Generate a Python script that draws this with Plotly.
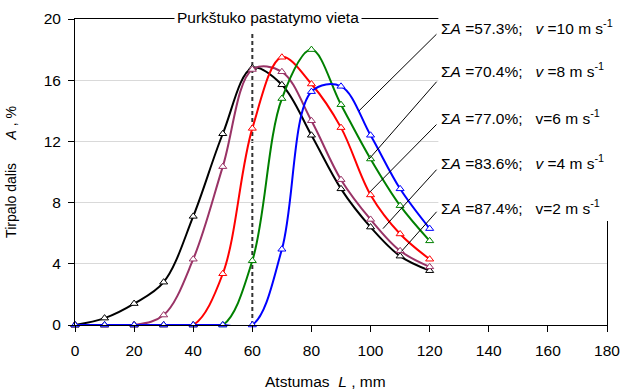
import plotly.graph_objects as go

# ---- data ----
distance_mm = [0, 10, 20, 30, 40, 50, 60, 70, 80, 90, 100, 110, 120]

share_v2 = [0, 0.45, 1.4, 2.8, 7.1, 12.5, 16.8, 15.7, 12.4, 8.9, 6.4, 4.5, 3.55]
share_v4 = [0, 0, 0, 0.65, 4.3, 10.35, 16.7, 16.55, 13.35, 9.5, 6.9, 4.85, 3.8]
share_v6 = [0, 0, 0, 0, 0, 3.35, 12.85, 17.5, 15.75, 12.9, 8.5, 5.95, 4.3]
share_v8 = [0, 0, 0, 0, 0, 0, 4.2, 14.8, 18.0, 14.4, 10.85, 7.8, 5.5]
share_v10 = [0, 0, 0, 0, 0, 0, 0, 4.95, 15.25, 15.6, 12.4, 8.9, 6.3]

series_names = ["v=2 m/s", "v=4 m/s", "v=6 m/s", "v=8 m/s", "v=10 m/s"]
series_values = [share_v2, share_v4, share_v6, share_v8, share_v10]
series_colors = ["#000000", "#993366", "#FF0000", "#008000", "#0000FF"]

label_texts = [
    "Σ<i>A</i> =57.3%;&nbsp;&nbsp; <i>v</i> =10 m s<sup>-1</sup>",
    "Σ<i>A</i> =70.4%;&nbsp;&nbsp; <i>v</i> =8 m s<sup>-1</sup>",
    "Σ<i>A</i> =77.0%;&nbsp;&nbsp; v=6 m s<sup>-1</sup>",
    "Σ<i>A</i> =83.6%;&nbsp;&nbsp; <i>v</i> =4 m s<sup>-1</sup>",
    "Σ<i>A</i> =87.4%;&nbsp;&nbsp; v=2 m s<sup>-1</sup>",
]
label_y = [19.5, 16.65, 13.6, 10.65, 7.7]          # text rows (A, %)
leader_start_y = [19.1, 16.0, 13.2, 10.25, 7.5]    # leader start at the text
leader_end = [(96.1, 14.0), (99.5, 10.85), (99.8, 8.7), (104.2, 6.3), (110.4, 4.8)]

nozzle_position_mm = 60
nozzle_label = "Purkštuko pastatymo vieta"

x_title = "Atstumas&nbsp; <i>L</i> , mm"
y_title = "Tirpalo dalis&nbsp;&nbsp;&nbsp;&nbsp;&nbsp; <i>A</i> , %"

x_ticks = [0, 20, 40, 60, 80, 100, 120, 140, 160, 180]
y_ticks = [0, 4, 8, 12, 16, 20]

FONT = "Liberation Sans, Arial, sans-serif"
FS = 15.5

fig = go.Figure()

for name, vals, col in zip(series_names, series_values, series_colors):
    fig.add_trace(go.Scatter(
        x=distance_mm, y=vals, name=name, mode="lines+markers",
        line=dict(color=col, width=2, shape="spline", smoothing=1.0),
        marker=dict(symbol="triangle-up", size=7, color="white",
                    line=dict(color=col, width=1)),
        cliponaxis=False, showlegend=False,
    ))

# nozzle position dashed line
fig.add_shape(type="line", xref="x", yref="y",
              x0=nozzle_position_mm, x1=nozzle_position_mm, y0=0, y1=19.2,
              line=dict(color="#333333", width=2, dash="4px,3px"), layer="below")

# white box hiding frame behind the labels
fig.add_shape(type="rect", xref="paper", yref="paper",
              x0=0.683, x1=1.06, y0=0.34, y1=1.03,
              fillcolor="white", line=dict(width=0), layer="above")

fig.add_annotation(x=65.3, y=1.0, xref="x", yref="paper", text=nozzle_label,
                   showarrow=False, yanchor="middle", yshift=2,
                   bgcolor="white", borderpad=2,
                   font=dict(family=FONT, size=FS, color="black"))

for txt, ly, sy, (ex, ey) in zip(label_texts, label_y, leader_start_y, leader_end):
    fig.add_annotation(x=123.3, y=ly, xref="x", yref="y", text=txt,
                       showarrow=False, xanchor="left", yanchor="middle",
                       font=dict(family=FONT, size=FS, color="black"))
    fig.add_annotation(x=ex, y=ey, xref="x", yref="y", ax=122.8, ay=sy,
                       axref="x", ayref="y", text="", showarrow=True,
                       arrowhead=0, arrowwidth=1, arrowcolor="black", standoff=0)

# x-axis title (slightly left of centre, as in the original)
fig.add_annotation(x=0.47, y=-0.185, xref="paper", yref="paper", text=x_title,
                   showarrow=False, xanchor="center", yanchor="middle",
                   font=dict(family=FONT, size=15.5, color="black"))

fig.update_xaxes(range=[0, 180], tickvals=x_ticks, ticks="outside", ticklen=6,
                 tickcolor="black", showline=True, linecolor="black", linewidth=1,
                 mirror=True, showgrid=False, zeroline=False, automargin=False,
                 ticklabelstandoff=5,
                 tickfont=dict(family=FONT, size=FS, color="black"))
fig.update_yaxes(range=[0, 20], tickvals=y_ticks, ticks="outside", ticklen=6,
                 tickcolor="black", showline=True, linecolor="black", linewidth=1,
                 mirror=True, showgrid=True, gridcolor="#D9D9D9", gridwidth=1,
                 zeroline=False, automargin=False, ticklabelstandoff=4,
                 tickfont=dict(family=FONT, size=FS, color="black"),
                 title=dict(text=y_title, standoff=23,
                            font=dict(family=FONT, size=14, color="black")))

fig.update_layout(width=621, height=392, margin=dict(l=75, r=14, t=19, b=67),
                  plot_bgcolor="white", paper_bgcolor="white",
                  font=dict(family=FONT, size=FS, color="black"))

fig.write_html("out.html", config={"displayModeBar": False},
               post_script="document.body.style.margin='0';"
                           "document.body.style.overflow='hidden';")
